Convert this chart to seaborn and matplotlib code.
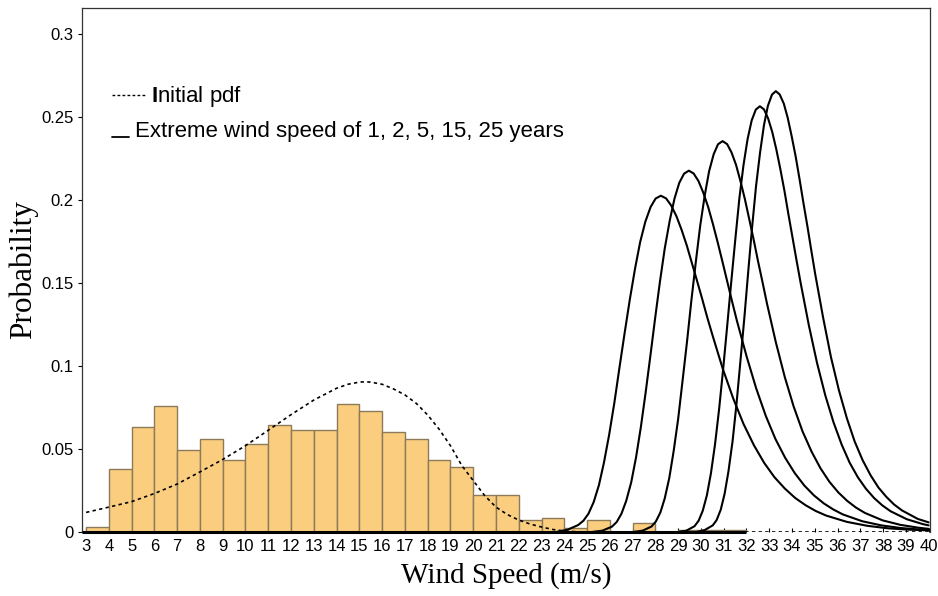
import numpy as np
import pandas as pd
import matplotlib
matplotlib.use("Agg")
import matplotlib.pyplot as plt
import seaborn as sns

# ---------------- data ----------------
bin_left = list(range(3, 32))
hist_prob = [0.0030, 0.0382, 0.0633, 0.0757, 0.0492, 0.0562, 0.0436, 0.0532,
             0.0647, 0.0617, 0.0617, 0.0773, 0.0729, 0.0605, 0.0560, 0.0436,
             0.0392, 0.0225, 0.0225, 0.0070, 0.0084, 0.0027, 0.0070, 0.0,
             0.0057, 0.0, 0.0015, 0.0010, 0.0010]

pdf_x = [3, 4, 5, 6, 7, 8, 9, 10, 11, 12, 13, 14, 14.5, 15, 15.25, 15.5, 16,
         16.5, 17, 17.5, 18, 18.5, 19, 19.5, 20, 20.5, 21, 21.5, 22, 22.5, 23,
         23.5, 24, 24.5, 25, 40]
pdf_y = [0.0118, 0.0150, 0.0183, 0.0232, 0.0289, 0.0362, 0.0437, 0.0520,
         0.0613, 0.0707, 0.0795, 0.0866, 0.0890, 0.0903, 0.0905, 0.0903, 0.0890,
         0.0862, 0.0826, 0.0775, 0.0705, 0.0620, 0.0520, 0.0400, 0.0310, 0.0220,
         0.0150, 0.0105, 0.0072, 0.0048, 0.0030, 0.0015, 0.0006, 0.0002, 0.0, 0.0]

ext1_x = [23.70, 24.15, 24.61, 24.84, 25.06, 25.29, 25.52, 25.74, 25.97, 26.20,
          26.42, 26.65, 26.88, 27.11, 27.33, 27.56, 27.79, 28.01, 28.24, 28.47,
          28.69, 28.92, 29.15, 29.38, 29.60, 29.83, 30.06, 30.28, 30.51, 30.96,
          31.42, 31.87, 32.33, 32.78, 33.23, 33.69, 34.14, 34.60, 35.05, 35.50,
          36.41, 37.32, 38.23, 39.14, 40.0]
ext1_y = [0.0002, 0.0014, 0.0042, 0.0068, 0.0110, 0.0180, 0.0282, 0.0417,
          0.0586, 0.0780, 0.0988, 0.1199, 0.1403, 0.1589, 0.1746, 0.1870, 0.1958,
          0.2009, 0.2026, 0.2010, 0.1968, 0.1904, 0.1821, 0.1726, 0.1622, 0.1513,
          0.1402, 0.1292, 0.1185, 0.0983, 0.0804, 0.0651, 0.0522, 0.0416, 0.0330,
          0.0261, 0.0205, 0.0161, 0.0126, 0.0099, 0.0061, 0.0037, 0.0022, 0.0014,
          0.0010]

ext2_x = [25.25, 25.67, 26.09, 26.30, 26.51, 26.72, 26.94, 27.15, 27.36, 27.57,
          27.78, 27.99, 28.20, 28.41, 28.63, 28.84, 29.05, 29.26, 29.47, 29.68,
          29.89, 30.10, 30.32, 30.53, 30.74, 30.95, 31.16, 31.37, 31.58, 32.01,
          32.43, 32.85, 33.27, 33.70, 34.12, 34.54, 34.96, 35.39, 35.81, 36.23,
          37.08, 37.92, 38.77, 39.61, 40.0]
ext2_y = [0.0001, 0.0008, 0.0032, 0.0060, 0.0110, 0.0188, 0.0300, 0.0449,
          0.0630, 0.0838, 0.1061, 0.1289, 0.1508, 0.1707, 0.1876, 0.2009, 0.2104,
          0.2159, 0.2177, 0.2160, 0.2115, 0.2046, 0.1957, 0.1854, 0.1743, 0.1626,
          0.1507, 0.1388, 0.1273, 0.1056, 0.0864, 0.0699, 0.0561, 0.0447, 0.0355,
          0.0280, 0.0221, 0.0173, 0.0136, 0.0106, 0.0065, 0.0040, 0.0024, 0.0015,
          0.0012]

ext3_x = [27.05, 27.44, 27.83, 28.02, 28.22, 28.41, 28.61, 28.80, 29.00, 29.19,
          29.39, 29.58, 29.78, 29.97, 30.17, 30.36, 30.56, 30.75, 30.95, 31.15,
          31.34, 31.54, 31.73, 31.93, 32.12, 32.32, 32.51, 32.71, 32.90, 33.29,
          33.68, 34.07, 34.46, 34.86, 35.25, 35.64, 36.03, 36.42, 36.81, 37.20,
          37.98, 38.76, 39.54, 40.0]
ext3_y = [0.0001, 0.0008, 0.0033, 0.0063, 0.0118, 0.0202, 0.0325, 0.0485,
          0.0681, 0.0907, 0.1148, 0.1394, 0.1632, 0.1847, 0.2030, 0.2174, 0.2276,
          0.2336, 0.2355, 0.2337, 0.2288, 0.2213, 0.2117, 0.2006, 0.1886, 0.1759,
          0.1630, 0.1502, 0.1377, 0.1143, 0.0935, 0.0757, 0.0607, 0.0484, 0.0384,
          0.0303, 0.0239, 0.0188, 0.0147, 0.0115, 0.0070, 0.0043, 0.0026, 0.0019]

ext4_x = [29.00, 29.36, 29.72, 29.90, 30.08, 30.26, 30.44, 30.62, 30.80, 30.98,
          31.16, 31.34, 31.52, 31.69, 31.87, 32.05, 32.23, 32.41, 32.59, 32.77,
          32.95, 33.13, 33.31, 33.49, 33.67, 33.84, 34.02, 34.20, 34.38, 34.74,
          35.10, 35.46, 35.82, 36.18, 36.53, 36.89, 37.25, 37.61, 37.97, 38.33,
          39.04, 39.76, 40.0]
ext4_y = [0.0001, 0.0008, 0.0035, 0.0068, 0.0128, 0.0220, 0.0354, 0.0529,
          0.0742, 0.0987, 0.1251, 0.1519, 0.1777, 0.2012, 0.2211, 0.2368, 0.2480,
          0.2545, 0.2565, 0.2546, 0.2492, 0.2411, 0.2306, 0.2185, 0.2054, 0.1916,
          0.1776, 0.1636, 0.1500, 0.1245, 0.1018, 0.0824, 0.0662, 0.0527, 0.0418,
          0.0330, 0.0260, 0.0204, 0.0160, 0.0125, 0.0077, 0.0047, 0.0040]

ext5_x = [29.83, 30.17, 30.52, 30.69, 30.87, 31.04, 31.21, 31.39, 31.56, 31.73,
          31.91, 32.08, 32.25, 32.42, 32.60, 32.77, 32.94, 33.12, 33.29, 33.46,
          33.64, 33.81, 33.98, 34.16, 34.33, 34.50, 34.68, 34.85, 35.02, 35.37,
          35.71, 36.06, 36.41, 36.75, 37.10, 37.45, 37.79, 38.14, 38.48, 38.83,
          39.52, 40.0]
ext5_y = [0.0001, 0.0012, 0.0040, 0.0072, 0.0134, 0.0230, 0.0366, 0.0547,
          0.0768, 0.1022, 0.1295, 0.1573, 0.1840, 0.2083, 0.2289, 0.2452, 0.2567,
          0.2635, 0.2656, 0.2636, 0.2581, 0.2496, 0.2388, 0.2263, 0.2127, 0.1984,
          0.1839, 0.1694, 0.1553, 0.1289, 0.1054, 0.0854, 0.0685, 0.0546, 0.0433,
          0.0342, 0.0269, 0.0212, 0.0166, 0.0130, 0.0079, 0.0058]

x_ticks = list(range(3, 41))
y_ticks = [0, 0.05, 0.1, 0.15, 0.2, 0.25, 0.3]
y_tick_labels = ["0", "0.05", "0.1", "0.15", "0.2", "0.25", "0.3"]
legend_pdf = "Initial pdf"
legend_ext = "Extreme wind speed of 1, 2, 5, 15, 25 years"
x_label = "Wind Speed (m/s)"
y_label = "Probability"

# ---------------- drawing ----------------
sns.set_style("white")
plt.rcParams["font.family"] = ["Liberation Sans", "DejaVu Sans"]
plt.rcParams["mathtext.fontset"] = "custom"
plt.rcParams["mathtext.bf"] = "Liberation Sans:bold"
plt.rcParams["mathtext.rm"] = "Liberation Sans"
plt.rcParams["text.color"] = "black"
plt.rcParams["axes.labelcolor"] = "black"
plt.rcParams["xtick.color"] = "black"
plt.rcParams["ytick.color"] = "black"

fig = plt.figure(figsize=(9.38, 5.96), dpi=100)
ax = fig.add_axes([82 / 938, 1 - 532 / 596, 848 / 938, 524 / 596])

hist_df = pd.DataFrame({"x": np.array(bin_left) + 0.5, "w": hist_prob})
edges = bin_left + [bin_left[-1] + 1]
sns.histplot(data=hist_df, x="x", weights="w", bins=edges, stat="count",
             color="#FACE7E", alpha=1.0, edgecolor="#8c7a5a", linewidth=1.0,
             ax=ax, zorder=2)

sns.lineplot(x=pdf_x, y=pdf_y, ax=ax, color="black", lw=1.2,
             linestyle=(0, (2, 2)), sort=False, estimator=None, zorder=4)
for xs, ys in [(ext1_x, ext1_y), (ext2_x, ext2_y), (ext3_x, ext3_y),
               (ext4_x, ext4_y), (ext5_x, ext5_y)]:
    sns.lineplot(x=xs, y=ys, ax=ax, color="black", lw=1.5, sort=False,
                 estimator=None, zorder=5)

xmin, xmax = 2.82, 40.06
ax.set_xlim(xmin, xmax)
ax.set_ylim(0, 0.3157)

# thick axis line along y = 0 (up to end of histogram range)
ax.plot([xmin, edges[-1]], [0, 0], color="black", lw=2.2, clip_on=False,
        zorder=6, solid_capstyle="butt")

ax.set_xticks(x_ticks)
ax.set_xticklabels([str(t) for t in x_ticks], fontsize=12)
ax.set_yticks(y_ticks)
ax.set_yticklabels(y_tick_labels, fontsize=12)
ax.tick_params(axis="x", direction="in", length=3, width=0.8, pad=5,
               colors="black", bottom=True)
ax.tick_params(axis="y", direction="out", length=3, width=0.8, pad=3,
               colors="black", left=True)

for side in ["left", "right", "top"]:
    ax.spines[side].set_visible(True)
    ax.spines[side].set_color("#333333")
    ax.spines[side].set_linewidth(0.9)
ax.spines["bottom"].set_visible(False)

ax.set_xlabel(x_label, fontsize=21, family=["Liberation Serif", "DejaVu Serif"],
              labelpad=6, color="black")
ax.set_ylabel(y_label, fontsize=22.5, family=["Liberation Serif", "DejaVu Serif"],
              labelpad=2, color="black")

# manual legend
ax.plot([0.0354, 0.0755], [0.834, 0.834], transform=ax.transAxes,
        color="black", lw=1.0, linestyle=(0, (2, 1.6)))
ax.text(0.0814, 0.831, r"$\mathbf{I}$" + legend_pdf[1:], transform=ax.transAxes,
        fontsize=16, va="center", ha="left", color="black")
ax.plot([0.0354, 0.0554], [0.754, 0.754], transform=ax.transAxes,
        color="black", lw=1.3)
ax.text(0.0625, 0.764, legend_ext, transform=ax.transAxes,
        fontsize=16, va="center", ha="left", color="black")

fig.savefig("out.png", dpi=100)
